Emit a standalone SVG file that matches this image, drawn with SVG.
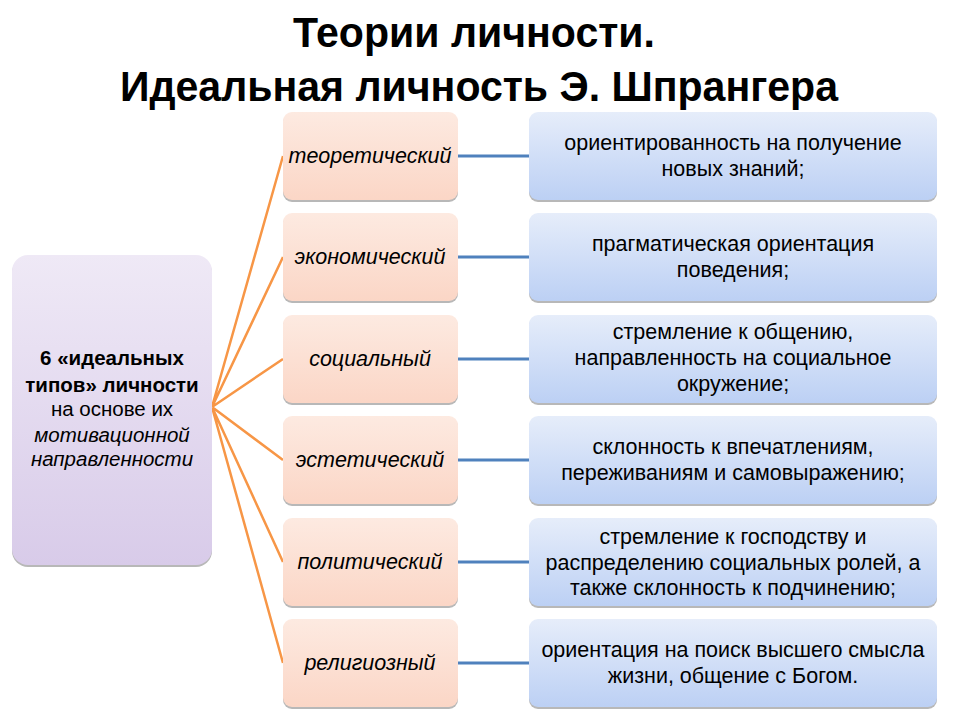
<svg xmlns="http://www.w3.org/2000/svg" width="960" height="720" viewBox="0 0 960 720">
<defs>
<linearGradient id="gL" x1="0" y1="0" x2="0" y2="1"><stop offset="0" stop-color="#efe9f6"/><stop offset="1" stop-color="#d8cbe9"/></linearGradient>
<linearGradient id="gM" x1="0" y1="0" x2="0" y2="1"><stop offset="0" stop-color="#fdeae1"/><stop offset="1" stop-color="#fbd6c6"/></linearGradient>
<linearGradient id="gR" x1="0" y1="0" x2="0" y2="1"><stop offset="0" stop-color="#e6edfa"/><stop offset="1" stop-color="#bcd0f4"/></linearGradient>
<style>
.sh{fill:#9a9a9a;opacity:0.7}
.t{font-family:"Liberation Sans",Arial,sans-serif;fill:#000;text-anchor:middle}
.title{font-size:42px;font-weight:bold}
.mid{font-size:21.5px;font-style:italic}
.rt{font-size:21.5px}
.lt{font-size:20.5px}
.b{font-weight:bold}
.i{font-style:italic}
.oc{stroke:#f79646;stroke-width:2.5;fill:none}
.bc{stroke:#4f81bd;stroke-width:3;fill:none}
</style>
</defs>
<rect width="960" height="720" fill="#fff"/>
<g id="title">
<text class="t title" x="474" y="47" textLength="362" lengthAdjust="spacingAndGlyphs">Теории личности.</text>
<text class="t title" x="479" y="101" textLength="718" lengthAdjust="spacingAndGlyphs">Идеальная личность Э. Шпрангера</text>
</g>
<g id="connectors">
<path class="oc" d="M212 407 L283 156 M212 407 L283 257 M212 407 L283 359 M212 407 L283 460 M212 407 L283 562 M212 407 L283 663"/>
<path class="bc" d="M458 156 H529 M458 257 H529 M458 359 H529 M458 460 H529 M458 562 H529 M458 663 H529"/>
</g>
<g id="root">
<rect class="sh" x="12" y="257" width="200" height="310" rx="16"/>
<rect x="12" y="255" width="200" height="310" rx="16" fill="url(#gL)"/>
<text class="t lt b" x="112" y="365">6 «идеальных</text>
<text class="t lt b" x="112" y="392">типов» личности</text>
<text class="t lt" x="112" y="416">на основе их</text>
<text class="t lt i" x="112" y="442">мотивационной</text>
<text class="t lt i" x="112" y="466">направленности</text>
</g>
<g id="n1">
<rect class="sh" x="283" y="114" width="175" height="88" rx="9"/>
<rect x="283" y="112" width="175" height="88" rx="9" fill="url(#gM)"/>
<text class="t mid" x="370" y="163">теоретический</text>
</g>
<g id="n2">
<rect class="sh" x="283" y="215" width="175" height="88" rx="9"/>
<rect x="283" y="213" width="175" height="88" rx="9" fill="url(#gM)"/>
<text class="t mid" x="370" y="264">экономический</text>
</g>
<g id="n3">
<rect class="sh" x="283" y="317" width="175" height="88" rx="9"/>
<rect x="283" y="315" width="175" height="88" rx="9" fill="url(#gM)"/>
<text class="t mid" x="370" y="366">социальный</text>
</g>
<g id="n4">
<rect class="sh" x="283" y="418" width="175" height="88" rx="9"/>
<rect x="283" y="416" width="175" height="88" rx="9" fill="url(#gM)"/>
<text class="t mid" x="370" y="467">эстетический</text>
</g>
<g id="n5">
<rect class="sh" x="283" y="520" width="175" height="88" rx="9"/>
<rect x="283" y="518" width="175" height="88" rx="9" fill="url(#gM)"/>
<text class="t mid" x="370" y="569">политический</text>
</g>
<g id="n6">
<rect class="sh" x="283" y="621" width="175" height="88" rx="9"/>
<rect x="283" y="619" width="175" height="88" rx="9" fill="url(#gM)"/>
<text class="t mid" x="370" y="670">религиозный</text>
</g>
<g id="d1">
<rect class="sh" x="529" y="114" width="408" height="88" rx="9"/>
<rect x="529" y="112" width="408" height="88" rx="9" fill="url(#gR)"/>
<text class="t rt" x="733" y="150">ориентированность на получение</text>
<text class="t rt" x="733" y="176">новых знаний;</text>
</g>
<g id="d2">
<rect class="sh" x="529" y="215" width="408" height="88" rx="9"/>
<rect x="529" y="213" width="408" height="88" rx="9" fill="url(#gR)"/>
<text class="t rt" x="733" y="251">прагматическая ориентация</text>
<text class="t rt" x="733" y="277">поведения;</text>
</g>
<g id="d3">
<rect class="sh" x="529" y="317" width="408" height="88" rx="9"/>
<rect x="529" y="315" width="408" height="88" rx="9" fill="url(#gR)"/>
<text class="t rt" x="733" y="339">стремление к общению,</text>
<text class="t rt" x="733" y="365">направленность на социальное</text>
<text class="t rt" x="733" y="391">окружение;</text>
</g>
<g id="d4">
<rect class="sh" x="529" y="418" width="408" height="88" rx="9"/>
<rect x="529" y="416" width="408" height="88" rx="9" fill="url(#gR)"/>
<text class="t rt" x="733" y="454">склонность к впечатлениям,</text>
<text class="t rt" x="733" y="480">переживаниям и самовыражению;</text>
</g>
<g id="d5">
<rect class="sh" x="529" y="520" width="408" height="88" rx="9"/>
<rect x="529" y="518" width="408" height="88" rx="9" fill="url(#gR)"/>
<text class="t rt" x="733" y="544">стремление к господству и</text>
<text class="t rt" x="733" y="570">распределению социальных ролей, а</text>
<text class="t rt" x="733" y="595">также склонность к подчинению;</text>
</g>
<g id="d6">
<rect class="sh" x="529" y="621" width="408" height="88" rx="9"/>
<rect x="529" y="619" width="408" height="88" rx="9" fill="url(#gR)"/>
<text class="t rt" x="733" y="657">ориентация на поиск высшего смысла</text>
<text class="t rt" x="733" y="683">жизни, общение с Богом.</text>
</g>
</svg>
